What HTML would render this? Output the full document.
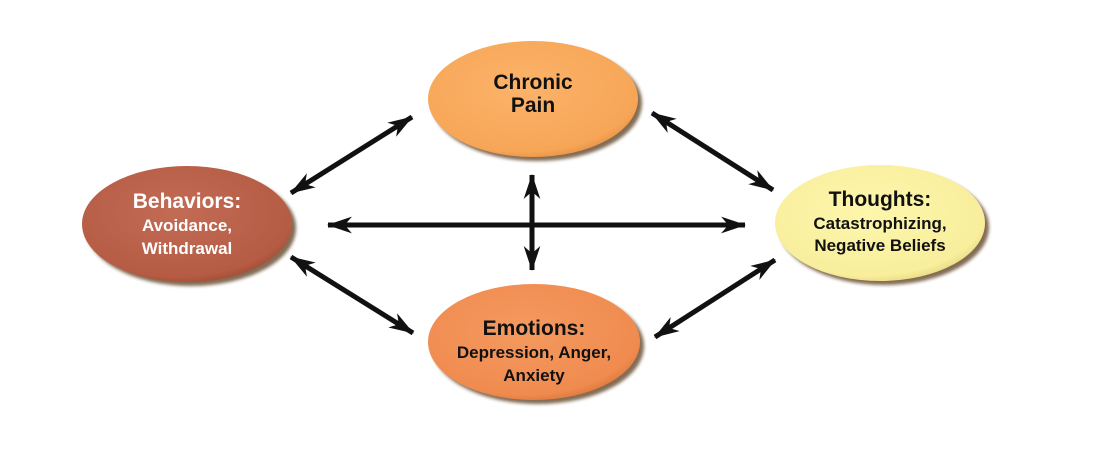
<!DOCTYPE html>
<html><head><meta charset="utf-8"><style>
html,body{margin:0;padding:0;background:#fff;}
svg{display:block;}
text{font-family:"Liberation Sans",Arial,sans-serif;font-weight:bold;text-anchor:middle;}
</style></head><body>
<svg width="1095" height="475" viewBox="0 0 1095 475" xmlns="http://www.w3.org/2000/svg">
<defs>
<marker id="ah" viewBox="0 0 24 16" refX="23" refY="8" markerWidth="5" markerHeight="3.4" markerUnits="strokeWidth" orient="auto-start-reverse">
<path d="M0,0 L24,8 L0,16 L7,8 Z" fill="#111"/>
</marker>
<radialGradient id="gp" cx="0.45" cy="0.4" r="0.65"><stop offset="0" stop-color="#fbb36a"/><stop offset="0.85" stop-color="#f7a657"/><stop offset="1" stop-color="#e08e40"/></radialGradient>
<radialGradient id="gb" cx="0.45" cy="0.4" r="0.65"><stop offset="0" stop-color="#c26b55"/><stop offset="0.85" stop-color="#b65c45"/><stop offset="1" stop-color="#9c4632"/></radialGradient>
<radialGradient id="gt" cx="0.45" cy="0.4" r="0.65"><stop offset="0" stop-color="#fdf6ac"/><stop offset="0.85" stop-color="#f8ee9c"/><stop offset="1" stop-color="#e2d47c"/></radialGradient>
<radialGradient id="ge" cx="0.45" cy="0.4" r="0.65"><stop offset="0" stop-color="#f49a60"/><stop offset="0.85" stop-color="#f08b4f"/><stop offset="1" stop-color="#d87238"/></radialGradient>
<filter id="sh" x="-20%" y="-20%" width="140%" height="150%"><feGaussianBlur stdDeviation="1.5"/></filter>
</defs>
<g fill="#5a3a1c" opacity="0.75" filter="url(#sh)">
<ellipse cx="537" cy="103" rx="105" ry="58"/>
<ellipse cx="191" cy="228" rx="105" ry="58"/>
<ellipse cx="884" cy="227" rx="105" ry="58"/>
<ellipse cx="538" cy="346" rx="106" ry="58"/>
</g>
<ellipse cx="533" cy="99" rx="105" ry="58" fill="url(#gp)"/>
<ellipse cx="187" cy="224" rx="105" ry="58" fill="url(#gb)"/>
<ellipse cx="880" cy="223" rx="105" ry="58" fill="url(#gt)"/>
<ellipse cx="534" cy="342" rx="106" ry="58" fill="url(#ge)"/>
<g stroke="#111" stroke-width="5" fill="none" marker-start="url(#ah)" marker-end="url(#ah)">
<line x1="291" y1="193" x2="412" y2="117"/>
<line x1="652" y1="113" x2="773" y2="190"/>
<line x1="291" y1="257" x2="413" y2="333"/>
<line x1="655" y1="337" x2="775" y2="260"/>
<line x1="328" y1="225" x2="745" y2="225"/>
<line x1="532" y1="175" x2="532" y2="270"/>
</g>
<text x="533" y="89" font-size="21" fill="#111">Chronic</text>
<text x="533" y="112" font-size="21" fill="#111">Pain</text>
<text x="187" y="208" font-size="21" fill="#fff">Behaviors:</text>
<text x="187" y="231" font-size="17" fill="#fff">Avoidance,</text>
<text x="187" y="254" font-size="17" fill="#fff">Withdrawal</text>
<text x="880" y="206" font-size="21" fill="#111">Thoughts:</text>
<text x="880" y="229" font-size="17" fill="#111">Catastrophizing,</text>
<text x="880" y="251" font-size="17" fill="#111">Negative Beliefs</text>
<text x="534" y="335" font-size="21" fill="#111">Emotions:</text>
<text x="534" y="358" font-size="17" fill="#111">Depression, Anger,</text>
<text x="534" y="381" font-size="17" fill="#111">Anxiety</text>
</svg>
</body></html>
